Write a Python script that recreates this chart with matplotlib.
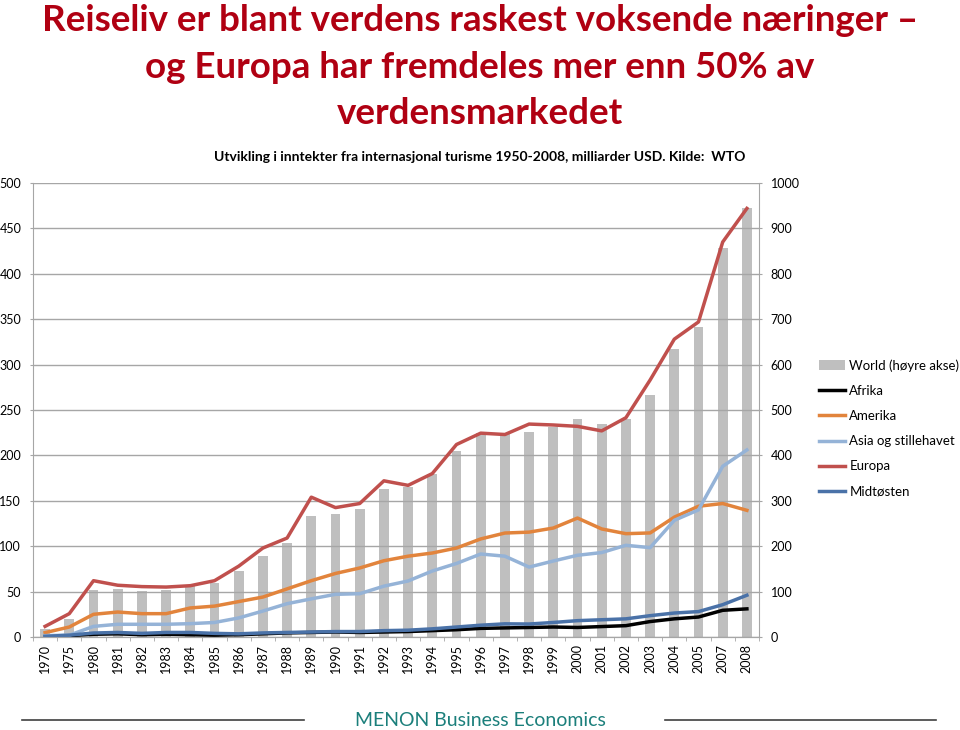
import numpy as np
import matplotlib
matplotlib.use("Agg")
import matplotlib.pyplot as plt
from matplotlib.lines import Line2D
from matplotlib.patches import Patch

plt.rcParams['font.family'] = ['Lato', 'DejaVu Sans']

# *
# Data (milliarder USD)
# *
years = ['1970', '1975', '1980', '1981', '1982', '1983', '1984', '1985', '1986', '1987',
         '1988', '1989', '1990', '1991', '1992', '1993', '1994', '1995', '1996', '1997',
         '1998', '1999', '2000', '2001', '2002', '2003', '2004', '2005', '2007', '2008']

world = [18, 40, 104, 106, 101, 103, 112, 119, 145, 179,
         208, 266, 270, 283, 326, 330, 360, 410, 449, 447,
         451, 463, 480, 469, 481, 533, 634, 682, 857, 944]

afrika = [0.5, 1.5, 3, 3.5, 2.5, 3, 2.5, 2, 2.5, 3.5,
          4.5, 5, 5.5, 5, 5.5, 6, 7, 8, 9.5, 10,
          10.5, 11, 10.5, 11.5, 12.5, 17, 20, 22, 29.4, 31]

amerika = [4.8, 11, 25, 27.5, 25.7, 25.7, 32, 34, 39, 44,
           53, 62, 70, 76, 84, 89, 92.5, 98, 108, 114.5,
           115.5, 120, 131, 119, 113.8, 114.6, 132, 144, 147, 139.5]

asia = [1.5, 2, 11.7, 14, 14, 14, 14.7, 16, 21, 28.6,
        36.7, 42, 47, 47.7, 56, 61.7, 72.7, 81, 91.4, 89,
        77, 83.7, 90, 93, 101, 98.4, 128.5, 140, 188, 206]

europa = [11.7, 25.7, 62, 57, 55.5, 55, 56.5, 62, 78, 98,
          109, 154, 142.5, 147, 172, 167, 180, 212, 224.5, 223,
          234.5, 233.5, 232, 227, 241.5, 283, 328, 347, 435, 472]

midtosten = [0.7, 2, 4.4, 5, 4, 5, 5, 4, 3.5, 4.5,
             5, 5.5, 6, 6, 7, 7.5, 9, 11, 13, 14.5,
             14.3, 16, 18, 19, 20, 23.5, 26.4, 28, 35.6, 46]

title = "Reiseliv er blant verdens raskest voksende næringer –\nog Europa har fremdeles mer enn 50% av\nverdensmarkedet"
subtitle = "Utvikling i inntekter fra internasjonal turisme 1950-2008, milliarder USD. Kilde:  WTO"

grid_col = '#A6A6A6'
x = np.arange(len(years))

fig = plt.figure(figsize=(9.6, 7.3), dpi=100)
ax = fig.add_axes([33/960, 1-637/730, 726/960, 454/730])
ax2 = ax.twinx()

# bars on the right axis, behind the lines
ax2.bar(x, world, width=0.4, color='#BFBFBF', zorder=1)
ax2.set_ylim(0, 1000)
ax2.set_yticks(np.arange(0, 1001, 100))

ax.set_zorder(ax2.get_zorder() + 1)
ax.patch.set_visible(False)

ax.plot(x, afrika, color='black', lw=2.5, label='Afrika')
ax.plot(x, amerika, color='#E2843C', lw=2.5, label='Amerika')
ax.plot(x, asia, color='#95B3D7', lw=2.5, label='Asia og stillehavet')
ax.plot(x, europa, color='#C0504D', lw=2.5, label='Europa')
ax.plot(x, midtosten, color='#4A72A8', lw=2.5, label='Midtøsten')

ax.set_xlim(-0.5, len(years) - 0.5)
ax.set_ylim(0, 500)
ax.set_yticks(np.arange(0, 501, 50))
ax.grid(axis='y', color=grid_col, lw=1)
ax.set_axisbelow(True)

ax.set_xticks(x)
ax.set_xticklabels(years, rotation=90, fontsize=9)
ax.set_xticks(np.arange(-0.5, len(years), 1), minor=True)
ax.tick_params(axis='x', which='major', length=0, pad=5)
ax.tick_params(axis='x', which='minor', length=3, color=grid_col)
ax.tick_params(axis='y', length=2.5, color=grid_col, labelsize=9, pad=6)
ax2.tick_params(axis='y', length=2.5, color=grid_col, labelsize=9, pad=6)

for a in (ax, ax2):
    a.spines['top'].set_visible(False)
    for s in ('left', 'right', 'bottom'):
        a.spines[s].set_color(grid_col)
ax.spines['right'].set_visible(False)
ax2.spines['left'].set_visible(False)

# *
# Texts
# *
fig.text(0.5, 1-4/730, title, ha='center', va='top', fontsize=26.5, fontweight='bold',
         color='#B00012', linespacing=1.5)
fig.text(0.5, 1-157/730, subtitle, ha='center', va='center', fontsize=10, fontweight='bold')

handles = [Patch(facecolor='#BFBFBF', label='World (høyre akse)')] + ax.get_lines()
labels = ['World (høyre akse)', 'Afrika', 'Amerika', 'Asia og stillehavet', 'Europa', 'Midtøsten']
fig.legend(handles, labels, loc='upper left', bbox_to_anchor=(819/960, 1-359/730),
           frameon=False, fontsize=9.5, handlelength=2.0, handletextpad=0.3,
           labelspacing=1.0, borderaxespad=0, borderpad=0)

# footer
fy = 1 - 720/730
fig.add_artist(Line2D([22/960, 304/960], [fy, fy], color='#404040', lw=1.2))
fig.add_artist(Line2D([665/960, 936/960], [fy, fy], color='#404040', lw=1.2))
fig.text(0.5, fy, 'MENON Business Economics', ha='center', va='center', fontsize=14, color='#1B7F7B')

fig.savefig('out.png', dpi=100)
